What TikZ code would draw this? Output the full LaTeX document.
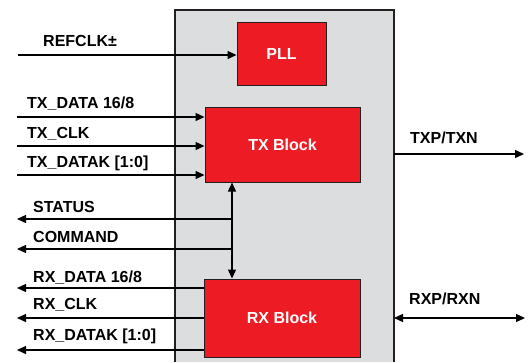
\documentclass[tikz,border=0pt]{standalone}
\usepackage{fontspec}
\setmainfont{Liberation Sans}
\usetikzlibrary{arrows.meta}
\definecolor{blkred}{HTML}{ED1C24}
\definecolor{chipgray}{HTML}{DCDDDF}
\definecolor{edge}{HTML}{231F20}
\begin{document}
\begin{tikzpicture}[x=1pt,y=-1pt,
  font=\fontsize{16}{18}\selectfont\bfseries,
  blk/.style={draw=edge,line width=1pt,fill=blkred,text=white,inner sep=0pt,anchor=center},
  lbl/.style={anchor=base west,inner sep=0pt,text=black},
  sig/.style={line width=1.3pt,draw=black,-{Triangle[length=9pt,width=8pt]}},
  bisig/.style={line width=1.3pt,draw=black,{Triangle[length=9pt,width=8pt]}-{Triangle[length=9pt,width=8pt]}},
  wire/.style={line width=1.3pt,draw=black}]
\useasboundingbox (0,0) rectangle (529,362);
% chip body
\fill[chipgray] (175,10) rectangle (394,362);
\draw[edge,line width=1.2pt] (175,362) -- (175,10) -- (394,10) -- (394,362);
% blocks
\node[blk,minimum width=89pt,minimum height=63pt] (pll) at (281.5,53.5) {PLL};
\node[blk,minimum width=155pt,minimum height=75pt] (tx) at (282.5,144.5) {TX Block};
\node[blk,minimum width=156pt,minimum height=78pt] (rx) at (282,318) {RX Block};
% coordinates
\coordinate (refL) at (18,55);
\coordinate (tdL) at (17,117);
\coordinate (tcL) at (17,146);
\coordinate (tkL) at (17,175);
\coordinate (jx) at (232,0);
\coordinate (stR) at (232,219);
\coordinate (stL) at (17,219);
\coordinate (cmR) at (232,249);
\coordinate (cmL) at (17,249);
\coordinate (rdL) at (17,288);
\coordinate (rcL) at (17,318);
\coordinate (rkL) at (17,350);
\coordinate (txo) at (394,154);
\coordinate (txE) at (524,154);
\coordinate (rxo) at (394,318);
\coordinate (rxE) at (525,318);
% inputs
\draw[sig] (refL) -- (refL -| pll.west);
\draw[sig] (tdL) -- (tdL -| tx.west);
\draw[sig] (tcL) -- (tcL -| tx.west);
\draw[sig] (tkL) -- (tkL -| tx.west);
% status/command bus
\draw[bisig] (tx.south -| jx) -- (rx.north -| jx);
\draw[sig] (stR) -- (stL);
\draw[sig] (cmR) -- (cmL);
% rx outputs
\draw[sig] (rdL -| rx.west) -- (rdL);
\draw[sig] (rcL -| rx.west) -- (rcL);
\draw[sig] (rkL -| rx.west) -- (rkL);
% serial
\draw[sig] (txo) -- (txE);
\draw[bisig] (rxo) -- (rxE);
% labels
\node[lbl] (lref) at (43,46) {REFCLK±};
\node[lbl] (ltd) at (27,108) {TX\_DATA 16/8};
\node[lbl] (ltc) at (27,138) {TX\_CLK};
\node[lbl] (ltk) at (27,167) {TX\_DATAK [1:0]};
\node[lbl] (lst) at (33,212) {STATUS};
\node[lbl] (lcm) at (33,242) {COMMAND};
\node[lbl] (lrd) at (33,282) {RX\_DATA 16/8};
\node[lbl] (lrc) at (33,309) {RX\_CLK};
\node[lbl] (lrk) at (33,340) {RX\_DATAK [1:0]};
\node[lbl] (ltxp) at (410,143) {TXP/TXN};
\node[lbl] (lrxp) at (409,304) {RXP/RXN};
\end{tikzpicture}
\end{document}
